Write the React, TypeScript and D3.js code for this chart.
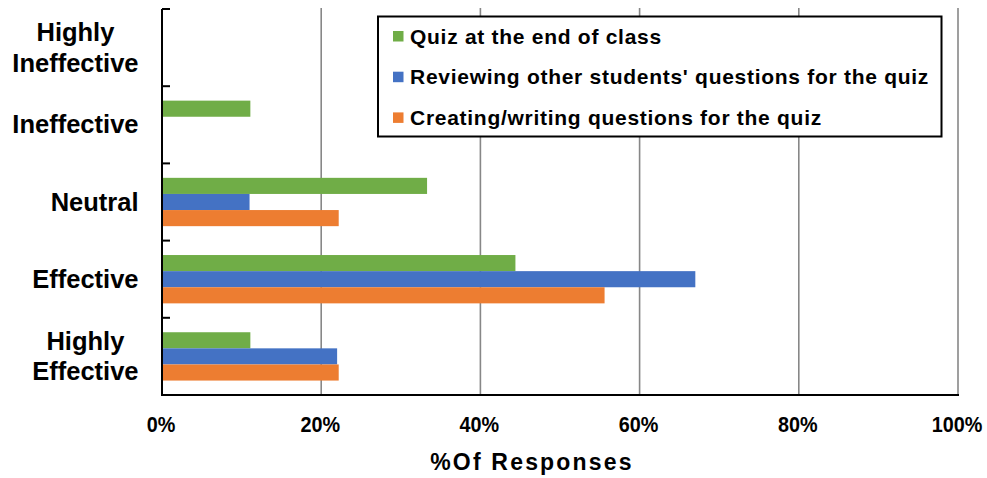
import React from "react";
import * as d3 from "d3";

// Survey categories, top to bottom
const categories = [
  "Highly Ineffective",
  "Ineffective",
  "Neutral",
  "Effective",
  "Highly Effective",
];

// Share of responses per series (fractions)
const quizEndOfClass = [0, 0.111, 0.333, 0.444, 0.111];
const reviewingQuestions = [0, 0, 0.11, 0.67, 0.22];
const creatingQuestions = [0, 0, 0.222, 0.556, 0.222];

const seriesNames = [
  "Quiz at the end of class",
  "Reviewing other students' questions for the quiz",
  "Creating/writing questions for the quiz",
];
const seriesColors = ["#70AD47", "#4472C4", "#ED7D31"];

const xTicks = [0, 0.2, 0.4, 0.6, 0.8, 1.0];
const xAxisTitle = "%Of Responses";

const W = 987;
const H = 478;
const plot = { left: 162, right: 958, top: 9, bottom: 395 };

const labelFont = "bold 25.5px 'Liberation Sans', Arial, sans-serif";

function textWidth(s: string, font: string): number {
  if (typeof document === "undefined") return s.length * 13;
  const c = document.createElement("canvas").getContext("2d");
  if (!c) return s.length * 13;
  c.font = font;
  return c.measureText(s).width;
}

export default function App() {
  const series = [quizEndOfClass, reviewingQuestions, creatingQuestions];

  const x = d3.scaleLinear().domain([0, 1]).range([plot.left, plot.right]);
  const y = d3
    .scaleBand<string>()
    .domain(categories)
    .range([plot.top, plot.bottom])
    .padding(0);
  const step = y.step();
  const inner = d3
    .scaleBand<number>()
    .domain(series.map((_, i) => i))
    .range([step * 0.187, step * 0.813])
    .padding(0);

  const boundaries = categories.map((c) => y(c) as number);
  const labelRight = 138.5;

  return (
    <svg
      width={W}
      height={H}
      style={{ position: "absolute", left: 0, top: 0, background: "#fff" }}
      fontFamily="'Liberation Sans', Arial, sans-serif"
    >
      {/* vertical gridlines */}
      {xTicks.slice(1).map((t) => (
        <line
          key={"g" + t}
          x1={x(t)}
          x2={x(t)}
          y1={plot.top - 1}
          y2={plot.bottom}
          stroke="#878787"
          strokeWidth={1.6}
        />
      ))}

      {/* bars */}
      {categories.map((c, ci) =>
        series.map((vals, si) =>
          vals[ci] > 0 ? (
            <rect
              key={c + si}
              x={x(0)}
              y={(y(c) as number) + (inner(si) as number)}
              width={x(vals[ci]) - x(0)}
              height={inner.bandwidth()}
              fill={seriesColors[si]}
            />
          ) : null
        )
      )}

      {/* axes */}
      <line
        x1={plot.left}
        x2={plot.left}
        y1={plot.top}
        y2={plot.bottom + 1}
        stroke="#000"
        strokeWidth={2}
      />
      {boundaries.map((b, i) => (
        <line
          key={"t" + i}
          x1={plot.left}
          x2={plot.left + 8}
          y1={b}
          y2={b}
          stroke="#000"
          strokeWidth={2}
        />
      ))}
      <line
        x1={plot.left - 1}
        x2={plot.right + 1}
        y1={plot.bottom}
        y2={plot.bottom}
        stroke="#000"
        strokeWidth={2}
      />

      {/* category labels */}
      {categories.map((c) => {
        const cy = (y(c) as number) + step / 2;
        const words = c.split(" ");
        if (words.length === 1) {
          return (
            <text
              key={"l" + c}
              x={labelRight}
              y={cy + 8.5}
              textAnchor="end"
              style={{ font: labelFont }}
              fill="#000"
            >
              {c}
            </text>
          );
        }
        const maxW = Math.max(...words.map((w) => textWidth(w, labelFont)));
        const cx = labelRight - maxW / 2;
        return (
          <text
            key={"l" + c}
            textAnchor="middle"
            style={{ font: labelFont }}
            fill="#000"
          >
            {words.map((w, wi) => (
              <tspan key={w} x={cx} y={cy - 6.5 + wi * 30.5}>
                {w}
              </tspan>
            ))}
          </text>
        );
      })}

      {/* x tick labels */}
      {xTicks.map((t) => (
        <text
          key={"xl" + t}
          transform={`translate(${x(t) - 1},432) scale(0.9,1)`}
          textAnchor="middle"
          fontSize={22}
          fontWeight="bold"
          fill="#000"
        >
          {d3.format(".0%")(t)}
        </text>
      ))}

      {/* x axis title */}
      <text
        x={532}
        y={470}
        textAnchor="middle"
        fontSize={23}
        fontWeight="bold"
        letterSpacing={2.2}
        fill="#000"
      >
        {xAxisTitle}
      </text>

      {/* legend */}
      <g>
        <rect
          x={378}
          y={16.5}
          width={563.5}
          height={120}
          fill="#fff"
          stroke="#000"
          strokeWidth={2}
        />
        {seriesNames.map((n, i) => (
          <g key={n} transform={`translate(393,${43.5 + i * 40.7})`}>
            <rect x={0} y={-12.5} width={10.5} height={10.5} fill={seriesColors[i]} />
            <text
              x={17}
              y={0}
              fontSize={21}
              fontWeight="bold"
              letterSpacing={0.72}
              fill="#000"
            >
              {n}
            </text>
          </g>
        ))}
      </g>
    </svg>
  );
}
